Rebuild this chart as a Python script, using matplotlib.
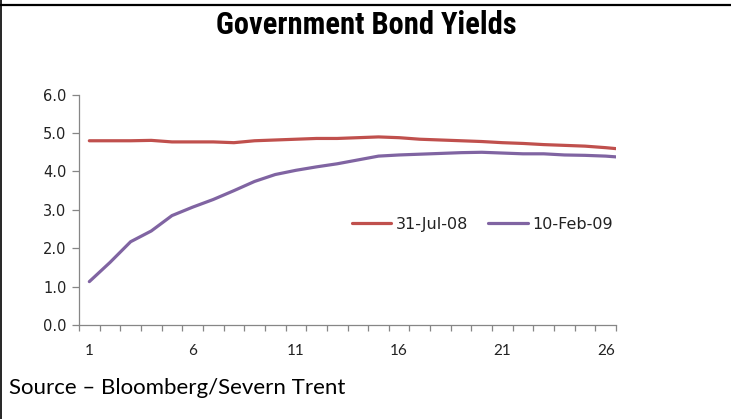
import matplotlib.pyplot as plt
from matplotlib.lines import Line2D
from matplotlib import font_manager

# maturity index (the last point runs just past the axis end and gets clipped)
maturity = list(range(1, 28))
jul_08 = [4.80, 4.80, 4.80, 4.81, 4.77, 4.77, 4.77, 4.75, 4.80, 4.82, 4.84, 4.86, 4.86, 4.88,
          4.90, 4.88, 4.84, 4.82, 4.80, 4.78, 4.75, 4.73, 4.70, 4.68, 4.66, 4.62, 4.57]
feb_09 = [1.13, 1.63, 2.17, 2.45, 2.85, 3.07, 3.27, 3.50, 3.74, 3.92, 4.03, 4.12, 4.20, 4.30,
          4.40, 4.43, 4.45, 4.47, 4.49, 4.50, 4.48, 4.46, 4.46, 4.43, 4.42, 4.40, 4.36]
x_labels = ['1', '6', '11', '16', '21', '26']
y_ticks = [0, 1, 2, 3, 4, 5, 6]

installed = {f.name for f in font_manager.fontManager.ttflist}
title_font = 'Roboto'
for name in ['Liberation Sans Narrow', 'Roboto Condensed', 'DejaVu Sans Condensed', 'Open Sans Condensed']:
    if name in installed:
        title_font = name
        break

W, H = 731, 419
fig = plt.figure(figsize=(W / 100, H / 100), dpi=100)
ax = fig.add_axes([79 / W, 1 - 325 / H, (616 - 79) / W, (325 - 94.7) / H])

red = '#C0504D'
purple = '#8064A2'
ax.plot(maturity, jul_08, color=red, lw=2.3, label='31-Jul-08', solid_capstyle='round')
ax.plot(maturity, feb_09, color=purple, lw=2.3, label='10-Feb-09', solid_capstyle='round')

ax.set_xlim(0.5, 26.5)
ax.set_ylim(0, 6)

grey = '#868686'
for s in ['top', 'right']:
    ax.spines[s].set_visible(False)
for s in ['left', 'bottom']:
    ax.spines[s].set_color(grey)
    ax.spines[s].set_linewidth(0.9)

ax.set_yticks(y_ticks)
ax.set_yticklabels(['%.1f' % v for v in y_ticks], fontsize=10.5, color='#222222', family='DejaVu Sans')
ax.tick_params(axis='y', direction='out', length=5, color=grey, width=0.9, pad=4)

# ticks between categories, labels every fifth category
ax.set_xticks([i + 0.5 for i in range(0, 27)])
ax.tick_params(axis='x', which='major', direction='out', length=4, color=grey, width=0.9, labelbottom=False)
ax.set_xticks([int(l) for l in x_labels], minor=True)
ax.set_xticklabels(x_labels, minor=True, fontsize=11, color='#222222', family='Lato')
ax.tick_params(axis='x', which='minor', length=0, pad=14)

leg = ax.legend(loc='center right', bbox_to_anchor=(613 / 537 - 79 / 537, (325 - 224.3) / 230.3), ncol=2,
                frameon=False, prop={'family': 'DejaVu Sans', 'size': 11.5}, handlelength=2.45,
                handletextpad=0.3, columnspacing=1.25, borderpad=0, borderaxespad=0)
for t in leg.get_texts():
    t.set_color('#222222')

fig.text(366 / W, 1 - 25 / H, 'Government Bond Yields', ha='center', va='center',
         fontsize=22, fontweight='bold', family=title_font)
fig.text(9 / W, 1 - 388 / H, 'Source \u2013 Bloomberg/Severn Trent', ha='left', va='center',
         fontsize=16, family='Lato')

# frame lines of the original slide
fig.add_artist(Line2D([0, 1], [1 - 5.5 / H, 1 - 5.5 / H], color='black', lw=1.6, transform=fig.transFigure))
fig.add_artist(Line2D([0.8 / W, 0.8 / W], [0, 1], color='black', lw=1.2, transform=fig.transFigure))

fig.savefig('out.png', dpi=100)
